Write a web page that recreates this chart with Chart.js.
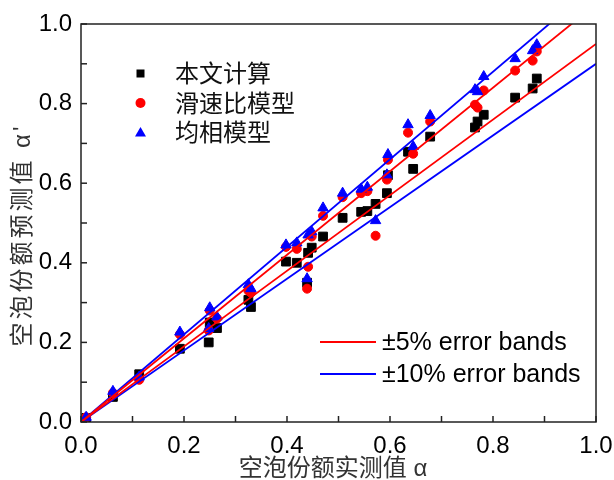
<!DOCTYPE html>
<html>
<head>
<meta charset="utf-8">
<script src="https://cdn.jsdelivr.net/npm/chart.js@4/dist/chart.umd.min.js"></script>
<style>
  html, body { margin: 0; padding: 0; background: #fff; }
</style>
</head>
<body>
<canvas id="chartVoid" width="614" height="480"></canvas>
<script>
// measured void fraction (x) and the three predictions (y)
const measured  = [0.010, 0.062, 0.113, 0.192, 0.248, 0.250, 0.264, 0.325, 0.330, 0.398,
                   0.419, 0.439, 0.441, 0.448, 0.470, 0.508, 0.544, 0.556, 0.572, 0.594,
                   0.596, 0.635, 0.645, 0.678, 0.765, 0.770, 0.782, 0.843, 0.877, 0.885];
const ownCalc   = [0.010, 0.063, 0.120, 0.184, 0.200, 0.250, 0.236, 0.307, 0.289, 0.403,
                   0.400, 0.350, 0.425, 0.438, 0.466, 0.513, 0.528, 0.530, 0.548, 0.575,
                   0.620, 0.679, 0.636, 0.717, 0.740, 0.755, 0.772, 0.815, 0.838, 0.863];
const slipModel = [0.012, 0.073, 0.106, 0.220, 0.230, 0.280, 0.260, 0.330, 0.325, 0.440,
                   0.435, 0.335, 0.390, 0.466, 0.518, 0.565, 0.575, 0.580, 0.468, 0.609,
                   0.659, 0.727, 0.674, 0.755, 0.797, 0.790, 0.833, 0.883, 0.908, 0.931];
const homoModel = [0.012, 0.077, 0.113, 0.226, 0.235, 0.287, 0.264, 0.345, 0.335, 0.445,
                   0.450, 0.360, 0.470, 0.478, 0.538, 0.575, 0.585, 0.590, 0.506, 0.621,
                   0.672, 0.747, 0.692, 0.770, 0.835, 0.830, 0.868, 0.913, 0.933, 0.948];

// error band end points
const bandX   = [0, 1];
const plus5   = [0, 1.05];
const minus5  = [0, 0.95];
const plus10  = [0, 1.10];
const minus10 = [0, 0.90];

const majorTicks = [0, 0.2, 0.4, 0.6, 0.8, 1.0];
const minorTicks = [0.1, 0.3, 0.5, 0.7, 0.9];

const seriesNames = ["本文计算", "滑速比模型", "均相模型"];
const bandNames = ["±5% error bands", "±10% error bands"];
const xTitle = "空泡份额实测值 α";
const yTitle = "空泡份额预测值 α'";

const latin = "'Liberation Sans', Arial, sans-serif";
const cjk = "'Liberation Sans', 'Noto Sans CJK SC', sans-serif";

function pairs(xs, ys) {
    return xs.map((v, i) => ({ x: v, y: ys[i] }));
}

function bandLine(ys, color, order) {
    return {
        type: "line",
        data: pairs(bandX, ys),
        borderColor: color,
        borderWidth: 1.8,
        pointRadius: 0,
        showLine: true,
        fill: false,
        order: order,
    };
}

const frameAndKeys = {
    id: "frameAndKeys",
    afterDraw(chart) {
        const ctx = chart.ctx;
        const a = chart.chartArea;
        const x = chart.scales.x;
        const y = chart.scales.y;
        ctx.save();

        // box and inward ticks
        ctx.strokeStyle = "#222";
        ctx.lineWidth = 1.5;
        ctx.strokeRect(a.left, a.top, a.right - a.left, a.bottom - a.top);
        majorTicks.concat(minorTicks).forEach(v => {
            const px = x.getPixelForValue(v);
            ctx.beginPath();
            ctx.moveTo(px, a.bottom);
            ctx.lineTo(px, a.bottom - 6);
            ctx.stroke();
            const py = y.getPixelForValue(v);
            ctx.beginPath();
            ctx.moveTo(a.left, py);
            ctx.lineTo(a.left + 6, py);
            ctx.stroke();
        });

        // axis titles
        ctx.fillStyle = "#333";
        ctx.textBaseline = "middle";
        ctx.textAlign = "center";
        ctx.font = "24px " + cjk;
        ctx.fillText(xTitle, 333, 469);
        ctx.save();
        ctx.translate(23, 235);
        ctx.rotate(-Math.PI / 2);
        ctx.letterSpacing = "3px";
        ctx.fillText(yTitle, 0, 0);
        ctx.restore();

        // marker legend
        ctx.textAlign = "left";
        ctx.fillStyle = "#000";
        ctx.fillRect(136.5, 69.5, 8, 8);
        ctx.fillStyle = "#ff0000";
        ctx.beginPath();
        ctx.arc(140.5, 103, 5, 0, Math.PI * 2);
        ctx.fill();
        ctx.fillStyle = "#0000ff";
        ctx.beginPath();
        ctx.moveTo(140.5, 127);
        ctx.lineTo(146, 136.5);
        ctx.lineTo(135, 136.5);
        ctx.closePath();
        ctx.fill();
        ctx.fillStyle = "#111";
        ctx.font = "24px 'Noto Sans CJK SC', sans-serif";
        seriesNames.forEach((t, i) => ctx.fillText(t, 175, [73, 103, 132][i]));

        // band legend
        ctx.lineWidth = 1.8;
        [["#ff0000", 342], ["#0000ff", 374]].forEach((s, i) => {
            ctx.strokeStyle = s[0];
            ctx.beginPath();
            ctx.moveTo(320, s[1]);
            ctx.lineTo(376, s[1]);
            ctx.stroke();
            ctx.fillStyle = "#000";
            ctx.font = "25px " + latin;
            ctx.fillText(bandNames[i], 382, s[1] + 1);
        });
        ctx.restore();
    },
};

const chart = new Chart(document.getElementById("chartVoid"), {
    type: "scatter",
    data: {
        datasets: [
            bandLine(plus5, "#ff0000", 0),
            bandLine(minus5, "#ff0000", 0),
            bandLine(plus10, "#0000ff", 0),
            bandLine(minus10, "#0000ff", 0),
            {
                label: seriesNames[2],
                data: pairs(measured, homoModel),
                pointStyle: "triangle",
                pointRadius: 6,
                backgroundColor: "#0000ff",
                borderColor: "#0000ff",
                borderWidth: 1,
                order: 1,
            },
            {
                label: seriesNames[1],
                data: pairs(measured, slipModel),
                pointStyle: "circle",
                pointRadius: 4.5,
                backgroundColor: "#ff0000",
                borderColor: "#ff0000",
                borderWidth: 1,
                order: 2,
            },
            {
                label: seriesNames[0],
                data: pairs(measured, ownCalc),
                pointStyle: "rect",
                pointRadius: 6.2,
                backgroundColor: "#000",
                borderColor: "#000",
                borderWidth: 1,
                order: 3,
            },
        ],
    },
    options: {
        responsive: false,
        animation: false,
        layout: { padding: { top: 24, right: 18, left: 0, bottom: 0 } },
        plugins: { legend: { display: false }, tooltip: { enabled: false } },
        scales: {
            x: {
                type: "linear",
                min: 0,
                max: 1,
                afterBuildTicks: s => { s.ticks = majorTicks.map(v => ({ value: v })); },
                ticks: {
                    callback: v => v.toFixed(1),
                    font: { size: 24, family: latin },
                    color: "#000",
                    padding: 10,
                    maxRotation: 0,
                    autoSkip: false,
                },
                grid: { display: false, drawTicks: false },
                border: { display: false },
                afterFit: s => { s.height = 58; s.paddingLeft = 0; s.paddingRight = 0; },
            },
            y: {
                type: "linear",
                min: 0,
                max: 1,
                afterBuildTicks: s => { s.ticks = majorTicks.map(v => ({ value: v })); },
                ticks: {
                    callback: v => v.toFixed(1),
                    font: { size: 24, family: latin },
                    color: "#000",
                    padding: 9,
                    autoSkip: false,
                },
                grid: { display: false, drawTicks: false },
                border: { display: false },
                afterFit: s => { s.width = 81; s.paddingTop = 0; s.paddingBottom = 0; },
            },
        },
    },
    plugins: [frameAndKeys],
});
</script>
</body>
</html>
